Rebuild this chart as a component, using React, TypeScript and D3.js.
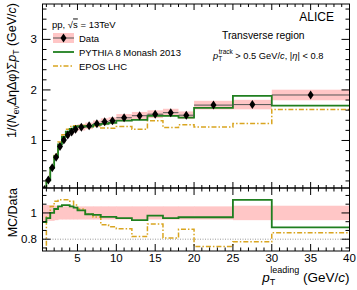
import * as d3 from 'd3';

// bin edges in pT leading (GeV/c)
const edges = [0.5, 1, 1.5, 2, 2.5, 3, 3.5, 4, 4.5, 5, 6, 7, 8, 9, 10, 12, 14, 16, 18, 20, 25, 30, 40];
// data: sum pT density in transverse region
const dataVals = [0.03, 0.22, 0.46, 0.67, 0.88, 1.01, 1.11, 1.17, 1.22, 1.26, 1.29, 1.33, 1.37, 1.39, 1.45, 1.49, 1.52, 1.55, 1.5, 1.7, 1.71, 1.9];
// relative systematic uncertainty
const dataSys = [0.06, 0.06, 0.06, 0.055, 0.05, 0.05, 0.05, 0.05, 0.05, 0.05, 0.05, 0.05, 0.05, 0.05, 0.05, 0.05, 0.05, 0.05, 0.05, 0.05, 0.055, 0.055];
// MC / Data
const pythiaRatio = [0.93, 0.96, 1.0, 1.03, 1.05, 1.06, 1.06, 1.05, 1.04, 1.02, 0.99, 0.985, 0.97, 0.97, 0.96, 0.945, 0.98, 0.96, 0.967, 0.967, 1.1, 0.89];
const eposRatio = [0.7, 0.97, 1.05, 1.09, 1.1, 1.1, 1.1, 1.09, 1.06, 1.03, 0.99, 0.97, 0.91, 0.895, 0.88, 0.82, 0.915, 0.81, 0.875, 0.745, 0.78, 0.85];

const xMajor = [5, 10, 15, 20, 25, 30, 35, 40];
const yTopMajor = [1, 2, 3];
const yRatMajor = [0.8, 1];

const W = 357;
const H = 290;
const L = 42.5;
const R = 349.5;
const TOP = 4;
const MID = 188;
const BOT = 251;

const font = 'Liberation Sans, Arial, Helvetica, sans-serif';
const green = '#1f7f1f';
const orange = '#d9a520';
const pink = '#ffc6c6';

const x = d3.scaleLinear().domain([0.5, 40]).range([L, R]);
const yTop = d3.scaleLinear().domain([0.06, 3.7]).range([MID, TOP]);
const yRat = d3.scaleLinear().domain([0.71, 1.19]).range([BOT, MID]);

function stepPath(vals: number[], y: d3.ScaleLinear<number, number>) {
  const pts: [number, number][] = [];
  vals.forEach((v, i) => {
    pts.push([x(edges[i]), y(v)]);
    pts.push([x(edges[i + 1]), y(v)]);
  });
  return d3.line()(pts) || '';
}

function ticks(
  vals: number[],
  pos: (v: number) => number,
  len: number,
  horizontal: boolean,
  at: number,
  dir: number,
  key: string
) {
  return vals.map((v, i) => {
    const p = pos(v);
    return horizontal ? (
      <line key={key + i} x1={p} x2={p} y1={at} y2={at + dir * len} stroke="#000" strokeWidth={1} />
    ) : (
      <line key={key + i} y1={p} y2={p} x1={at} x2={at + dir * len} stroke="#000" strokeWidth={1} />
    );
  });
}

export default function App() {
  const mids = edges.slice(0, -1).map((e, i) => (e + edges[i + 1]) / 2);
  const pythiaVals = dataVals.map((d, i) => d * pythiaRatio[i]);
  const eposVals = dataVals.map((d, i) => d * eposRatio[i]);

  const xMinor = d3.range(1, 40, 1).filter((v) => v % 5 !== 0);
  const yTopMinor = d3.range(0.2, 3.7, 0.2).filter((v) => Math.abs(v - Math.round(v)) > 0.01);
  const yRatMinor = [0.7333, 0.8667, 0.9333, 1.0667, 1.1333];

  const diamond = 'M0,-4.5L3,0L0,4.5L-3,0Z';

  return (
    <svg width={W} height={H} style={{ position: 'absolute', left: 0, top: 0, fontFamily: font }}>
      <defs>
        <clipPath id="clipTop">
          <rect x={L} y={TOP} width={R - L} height={MID - TOP} />
        </clipPath>
        <clipPath id="clipRat">
          <rect x={L} y={MID} width={R - L} height={BOT - MID} />
        </clipPath>
      </defs>
      <rect width={W} height={H} fill="#fff" />

      {/* top panel */}
      <g clipPath="url(#clipTop)">
        {dataVals.map((d, i) => (
          <rect
            key={'b' + i}
            x={x(edges[i])}
            width={x(edges[i + 1]) - x(edges[i])}
            y={yTop(d * (1 + dataSys[i]))}
            height={yTop(d * (1 - dataSys[i])) - yTop(d * (1 + dataSys[i]))}
            fill={pink}
          />
        ))}
        <path d={stepPath(eposVals, yTop)} fill="none" stroke={orange} strokeWidth={1.5} strokeDasharray="5,2,1.5,2" />
        <path d={stepPath(pythiaVals, yTop)} fill="none" stroke={green} strokeWidth={1.8} />
        {dataVals.map((d, i) => (
          <g key={'d' + i}>
            <line x1={x(edges[i])} x2={x(edges[i + 1])} y1={yTop(d)} y2={yTop(d)} stroke="#555" strokeWidth={1} />
            <path d={diamond} transform={`translate(${x(mids[i])},${yTop(d)})`} fill="#000" />
          </g>
        ))}
      </g>

      {/* ratio panel */}
      <g clipPath="url(#clipRat)">
        {dataVals.map((d, i) => (
          <rect
            key={'rb' + i}
            x={x(edges[i])}
            width={x(edges[i + 1]) - x(edges[i]) + 0.5}
            y={yRat(1 + dataSys[i])}
            height={yRat(1 - dataSys[i]) - yRat(1 + dataSys[i])}
            fill={pink}
          />
        ))}
        <line x1={L} x2={R} y1={yRat(0.8)} y2={yRat(0.8)} stroke="#999" strokeWidth={1} strokeDasharray="1,1.5" />
        <path d={stepPath(eposRatio, yRat)} fill="none" stroke={orange} strokeWidth={1.5} strokeDasharray="5,2,1.5,2" />
        <path d={stepPath(pythiaRatio, yRat)} fill="none" stroke={green} strokeWidth={1.8} />
      </g>

      {/* frames */}
      <rect x={L} y={TOP} width={R - L} height={MID - TOP} fill="none" stroke="#000" strokeWidth={1} />
      <rect x={L} y={MID} width={R - L} height={BOT - MID} fill="none" stroke="#000" strokeWidth={1} />

      {/* ticks */}
      {ticks(xMajor, x, 6, true, MID, -1, 'xtb')}
      {ticks(xMinor, x, 3, true, MID, -1, 'xtbm')}
      {ticks(xMajor, x, 6, true, TOP, 1, 'xtt')}
      {ticks(xMinor, x, 3, true, TOP, 1, 'xttm')}
      {ticks(yTopMajor, yTop, 8, false, L, 1, 'ytl')}
      {ticks(yTopMinor, yTop, 4, false, L, 1, 'ytlm')}
      {ticks(yTopMajor, yTop, 8, false, R, -1, 'ytr')}
      {ticks(yTopMinor, yTop, 4, false, R, -1, 'ytrm')}

      {ticks(xMajor, x, 7, true, BOT, -1, 'xrb')}
      {ticks(xMinor, x, 3.5, true, BOT, -1, 'xrbm')}
      {ticks(xMajor, x, 7, true, MID, 1, 'xrt')}
      {ticks(xMinor, x, 3.5, true, MID, 1, 'xrtm')}
      {ticks(yRatMajor, yRat, 8, false, L, 1, 'yrl')}
      {ticks(yRatMinor, yRat, 4, false, L, 1, 'yrlm')}
      {ticks(yRatMajor, yRat, 8, false, R, -1, 'yrr')}
      {ticks(yRatMinor, yRat, 4, false, R, -1, 'yrrm')}

      {/* tick labels */}
      {yTopMajor.map((v) => (
        <text key={'ylt' + v} x={37} y={yTop(v) + 4} fontSize={11.5} textAnchor="end">
          {v}
        </text>
      ))}
      {yRatMajor.map((v) => (
        <text key={'ylr' + v} x={37} y={yRat(v) + 4} fontSize={11.5} textAnchor="end">
          {v}
        </text>
      ))}
      {xMajor.map((v) => (
        <text key={'xl' + v} x={x(v)} y={261.5} fontSize={11.5} textAnchor="middle">
          {v}
        </text>
      ))}

      {/* axis titles */}
      <text transform="translate(16,3) rotate(-90)" fontSize={12.5} textAnchor="end">
        1/(<tspan fontStyle="italic">N</tspan>
        <tspan fontSize={8.5} dy={3}>ev</tspan>
        <tspan dy={-3}>ΔηΔφ)Σ</tspan>
        <tspan fontStyle="italic">p</tspan>
        <tspan fontSize={8.5} dy={3}>T</tspan>
        <tspan dy={-3}> (GeV/</tspan>
        <tspan fontStyle="italic">c</tspan>)
      </text>
      <text transform="translate(17,188) rotate(-90)" fontSize={12.5} textAnchor="end">
        MC/Data
      </text>
      <text x={R} y={282} fontSize={13.5} textAnchor="end">
        <tspan fontStyle="italic">p</tspan>
        <tspan fontSize={9} dy={3}>T</tspan>
        <tspan fontSize={9} dx={-5} dy={-12}>leading</tspan>
        <tspan dy={9}> (GeV/</tspan>
        <tspan fontStyle="italic">c</tspan>)
      </text>

      {/* labels */}
      <text x={52} y={27.5} fontSize={9.5}>
        pp, √<tspan style={{ textDecoration: 'overline' }}>s</tspan> = 13TeV
      </text>
      <text x={334} y={20.5} fontSize={12}>
        <tspan textAnchor="end">ALICE</tspan>
      </text>
      <text x={222} y={38.5} fontSize={10.3}>
        Transverse region
      </text>
      <text x={213} y={58.5} fontSize={9.3}>
        <tspan fontStyle="italic">p</tspan>
        <tspan fontSize={6.5} dy={2.5}>T</tspan>
        <tspan fontSize={6.5} dx={-3.5} dy={-7.5}>track</tspan>
        <tspan dy={5}> &gt; 0.5 GeV/</tspan>
        <tspan fontStyle="italic">c</tspan>, |<tspan fontStyle="italic">η</tspan>| &lt; 0.8
      </text>

      {/* legend */}
      <rect x={53} y={33} width={21} height={10} fill={pink} />
      <line x1={53} x2={74} y1={38} y2={38} stroke="#555" strokeWidth={1} />
      <path d={diamond} transform="translate(63.5,38)" fill="#000" />
      <text x={79} y={41.5} fontSize={9.5}>
        Data
      </text>
      <line x1={53} x2={74} y1={52} y2={52} stroke={green} strokeWidth={1.8} />
      <text x={79} y={55.5} fontSize={9.5}>
        PYTHIA 8 Monash 2013
      </text>
      <line x1={53} x2={74} y1={66} y2={66} stroke={orange} strokeWidth={1.5} strokeDasharray="5,2,1.5,2" />
      <text x={79} y={69.5} fontSize={9.5}>
        EPOS LHC
      </text>
    </svg>
  );
}
